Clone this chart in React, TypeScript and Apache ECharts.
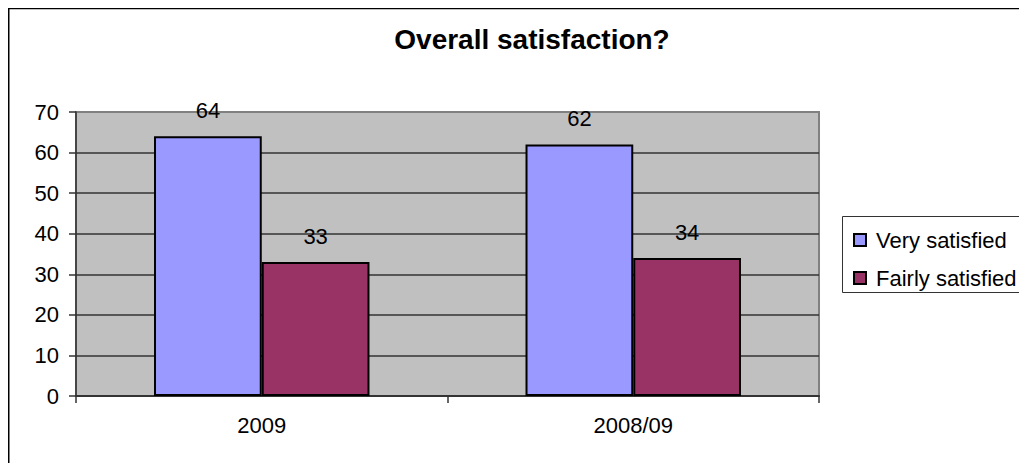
import React, { useEffect, useRef } from "react";
import * as echarts from "echarts";

const categories = ["2009", "2008/09"];
const verySatisfied = [64, 62];
const fairlySatisfied = [33, 34];
const seriesNames = ["Very satisfied", "Fairly satisfied"];
const titleText = "Overall satisfaction?";

const FONT = "'Liberation Sans', Arial, sans-serif";

export default function App() {
  const ref = useRef<HTMLDivElement>(null);

  useEffect(() => {
    if (!ref.current) return;
    const chart = echarts.init(ref.current, null, { renderer: "svg" });
    // grid lines are dark, except the top one which belongs to the plot frame
    const gridColors = ["#333", "#333", "#333", "#333", "#333", "#333", "#333", "#808080"];
    chart.setOption({
      animation: false,
      backgroundColor: "#ffffff",
      textStyle: { fontFamily: FONT },
      grid: {
        left: 68,
        top: 104,
        width: 743,
        height: 284,
        show: true,
        backgroundColor: "#c0c0c0",
        borderColor: "#808080",
        borderWidth: 2,
      },
      legend: {
        orient: "vertical",
        left: 840,
        top: 216,
        itemWidth: 12,
        itemHeight: 12,
        itemGap: 16,
        icon: "rect",
        textStyle: { fontSize: 22, color: "#000", fontFamily: FONT, padding: [0, 0, 0, 5] },
        data: seriesNames,
      },
      xAxis: {
        type: "category",
        data: categories,
        axisLine: { show: true, lineStyle: { color: "#333", width: 2 } },
        axisTick: { show: true, length: 7, lineStyle: { color: "#333", width: 1.5 } },
        axisLabel: { fontSize: 22, color: "#000", margin: 18, fontFamily: FONT },
        splitLine: { show: false },
      },
      yAxis: {
        type: "value",
        min: 0,
        max: 70,
        interval: 10,
        axisLine: { show: true, lineStyle: { color: "#333", width: 1.5 } },
        axisTick: { show: true, length: 7, lineStyle: { color: "#333", width: 1.5 } },
        axisLabel: { fontSize: 22, color: "#000", margin: 17, fontFamily: FONT },
        splitLine: { show: true, lineStyle: { color: gridColors, width: 1.5 } },
      },
      series: [
        {
          name: seriesNames[0],
          type: "bar",
          data: verySatisfied,
          barGap: "0%",
          barCategoryGap: "42%",
          itemStyle: { color: "#9999ff", borderColor: "#000", borderWidth: 2 },
          label: { show: true, position: "top", distance: 15, fontSize: 22, color: "#000", fontFamily: FONT },
        },
        {
          name: seriesNames[1],
          type: "bar",
          data: fairlySatisfied,
          barGap: "0%",
          barCategoryGap: "42%",
          itemStyle: { color: "#993366", borderColor: "#000", borderWidth: 2 },
          label: { show: true, position: "top", distance: 15, fontSize: 22, color: "#000", fontFamily: FONT },
        },
      ],
      graphic: [
        {
          type: "line",
          shape: { x1: 0, y1: 0.5, x2: 1019, y2: 0.5 },
          style: { stroke: "#000", lineWidth: 1.5 },
        },
        {
          type: "line",
          shape: { x1: 0.75, y1: 0, x2: 0.75, y2: 455 },
          style: { stroke: "#000", lineWidth: 1.5 },
        },
        {
          type: "rect",
          shape: { x: 834.5, y: 208.5, width: 200, height: 76 },
          style: { fill: "none", stroke: "#333", lineWidth: 1 },
        },
        {
          type: "text",
          x: 524,
          y: 31,
          style: {
            text: titleText,
            font: `bold 28px ${FONT}`,
            fill: "#000",
            textAlign: "center",
            textVerticalAlign: "middle",
          },
        },
      ],
    });
    return () => chart.dispose();
  }, []);

  return <div ref={ref} style={{ width: 1019, height: 455 }} />;
}
